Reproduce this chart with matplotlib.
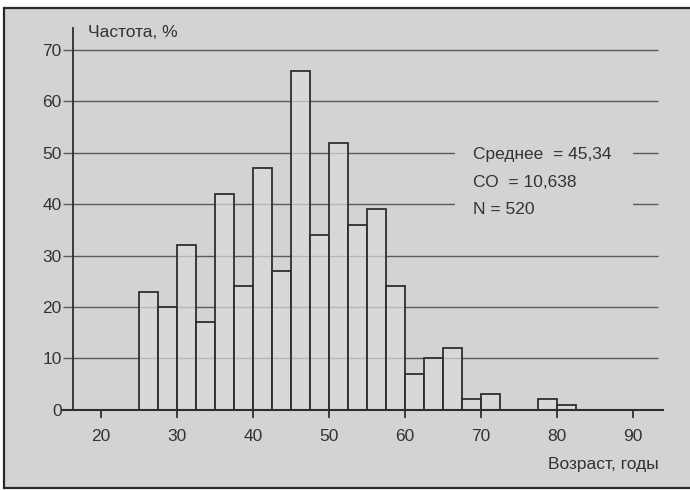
import matplotlib
matplotlib.use("Agg")
import matplotlib.pyplot as plt
from matplotlib.patches import Rectangle
import numpy as np

plt.rcParams['font.family'] = ['Liberation Sans Narrow', 'Liberation Sans', 'DejaVu Sans']

# Data
bin_left = [25, 27.5, 30, 32.5, 35, 37.5, 40, 42.5, 45, 47.5, 50, 52.5, 55, 57.5,
            60, 62.5, 65, 67.5, 70, 72.5, 75, 77.5, 80]
freq = [23, 20, 32, 17, 42, 24, 47, 27, 66, 34, 52, 36, 39, 24,
        7, 10, 12, 2, 3, 0, 0, 2, 1]
bin_width = 2.5
x_ticks = [20, 30, 40, 50, 60, 70, 80, 90]
y_ticks = [0, 10, 20, 30, 40, 50, 60, 70]
stats_lines = ["Среднее  = 45,34", "СО  = 10,638", "N = 520"]
y_label = "Частота, %"
x_label = "Возраст, годы"

BG = "#d3d3d3"
INK = "#333333"
GRID = "#5a5a5a"

W, H = 690, 490
fig = plt.figure(figsize=(W / 100, H / 100), dpi=100, facecolor="white")
# outer frame
frame = Rectangle((4 / W, (H - 488) / H), (W + 10) / W, (488 - 8) / H,
                  transform=fig.transFigure, facecolor=BG,
                  edgecolor="#2a2a2a", linewidth=1.6, zorder=-5)
fig.add_artist(frame)

ax = fig.add_axes([63 / W, (H - 420) / H, 600 / W, 392 / H])
ax.set_zorder(5)
ax.set_facecolor("none")
ax.set_xlim(15, 94)
ax.set_ylim(-2, 74.3)
for s in ax.spines.values():
    s.set_visible(False)
ax.set_xticks([])
ax.set_yticks(y_ticks)
ax.set_yticklabels([str(v) for v in y_ticks], fontsize=12.5, color=INK)
ax.tick_params(axis='y', length=0, pad=1)

# gridlines
for v in y_ticks[1:]:
    ax.plot([15, 93.3], [v, v], color=GRID, lw=1.0, zorder=1, solid_capstyle='butt')

# bars
ax.bar(bin_left, freq, width=bin_width, align='edge',
       facecolor=(0.86, 0.86, 0.86, 0.72), edgecolor="#2e2e2e", linewidth=1.3, zorder=2)

# axes lines
ax.plot([16.3, 16.3], [0, 74.3], color="#2e2e2e", lw=1.3, zorder=3, clip_on=False)
ax.plot([15, 94], [0, 0], color="#2e2e2e", lw=1.5, zorder=3, clip_on=False)
for t in x_ticks:
    ax.plot([t, t], [0, -1.4], color="#2e2e2e", lw=1.3, zorder=3, clip_on=False)
    ax.text(t, -3.7, str(t), ha='center', va='top', fontsize=12.5, color=INK)

# stats box
ax.add_patch(Rectangle((66.6, 37.5), 23.4, 15.5, facecolor=BG, edgecolor='none', zorder=4))
for i, line in enumerate(stats_lines):
    ax.text(69.0, 49.6 - i * 5.35, line, ha='left', va='center', fontsize=12.5,
            color=INK, zorder=5)

ax.text(18.3, 73.4, y_label, ha='left', va='center', fontsize=12.5, color=INK, zorder=5)
ax.text(93.4, -10.7, x_label, ha='right', va='center', fontsize=12.5, color=INK,
        clip_on=False)

fig.savefig("out.png", dpi=100, facecolor="white")
